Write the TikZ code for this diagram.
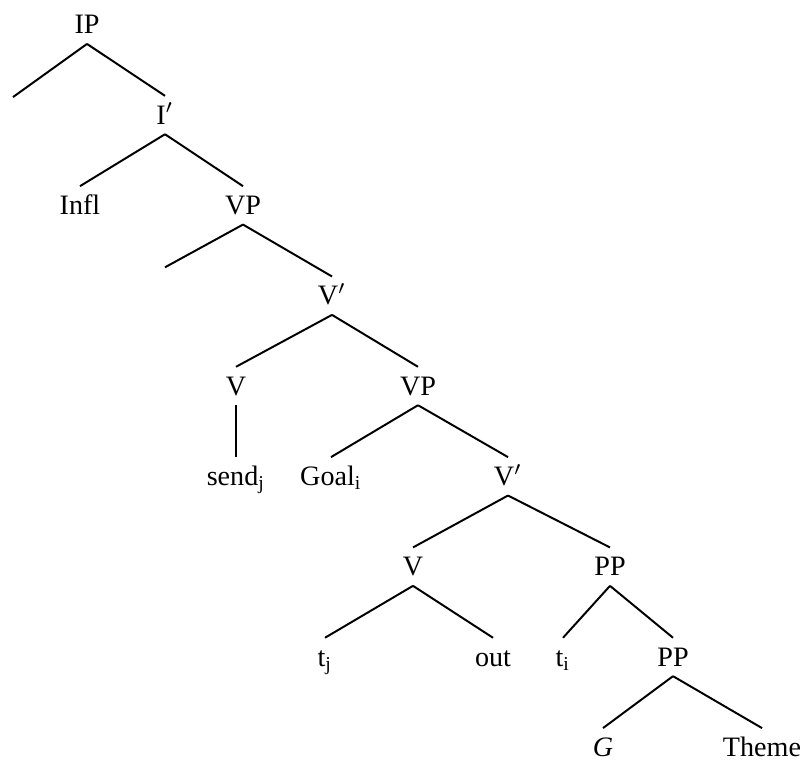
\documentclass[tikz,border=0pt]{standalone}
\usepackage{fontspec}
\setmainfont{Liberation Serif}

\begin{document}
\begin{tikzpicture}[
        level distance=1.129cm,
        sibling distance=0pt,
        % level/.style={sibling distance=20mm},
        every node/.style={inner sep=2.5pt, text height=1.6ex, text depth=.2ex},
        edge from parent/.style={draw, line width=0.7pt},
        edge from parent path={(\tikzparentnode.south) -- (\tikzchildnode.north)},
        spec/.style={inner sep=0pt, text height=0pt, text depth=0pt, yshift=#1},
        ]
    \useasboundingbox (-1.0875,0.309) rectangle (9.05,-9.179);
    \node (ip) at (0,0) {IP}
        child[xshift=-0.925cm] {
            node (ipspec) [spec=0.2cm] {}
        }
        child[xshift=0.975cm] {
            node (ibar) {I$'$}
            child[xshift=-1.0625cm] {
                node (infl) {Infl}
            }
            child[xshift=0.975cm] {
                node (vp) {VP}
                child[xshift=-0.975cm] {
                    node (vpspec) [spec=0.33cm] {}
                }
                child[xshift=1.1125cm] {
                    node (vbar) {V$'$}
                    child[xshift=-1.2cm] {
                        node (v) {V}
                        child {
                            node (send) {send\textsubscript{j}}
                        }
                    }
                    child[xshift=1.075cm] {
                        node (vp2) {VP}
                        child[xshift=-1.0875cm] {
                            node (goal) {Goal\textsubscript{i}}
                        }
                        child[xshift=1.125cm] {
                            node (vbar2) {V$'$}
                            child[xshift=-1.1875cm] {
                                node (v2) {V}
                                child[xshift=-1.1cm] {
                                    node (tj) {t\textsubscript{j}}
                                }
                                child[xshift=1.0cm] {
                                    node (out) {out}
                                }
                            }
                            child[xshift=1.275cm] {
                                node (pp) {PP}
                                child[xshift=-0.5875cm] {
                                    node (ti) {t\textsubscript{i}}
                                }
                                child[xshift=0.7875cm] {
                                    node (pp2) {PP}
                                    child[xshift=-0.875cm] {
                                        node (g) {\textit{G}}
                                    }
                                    child[xshift=1.1125cm] {
                                        node (theme) {Theme}
                                    }
                                }
                            }
                        }
                    }
                }
            }
        }
    ; % end of ip
\end{tikzpicture}
\end{document}
